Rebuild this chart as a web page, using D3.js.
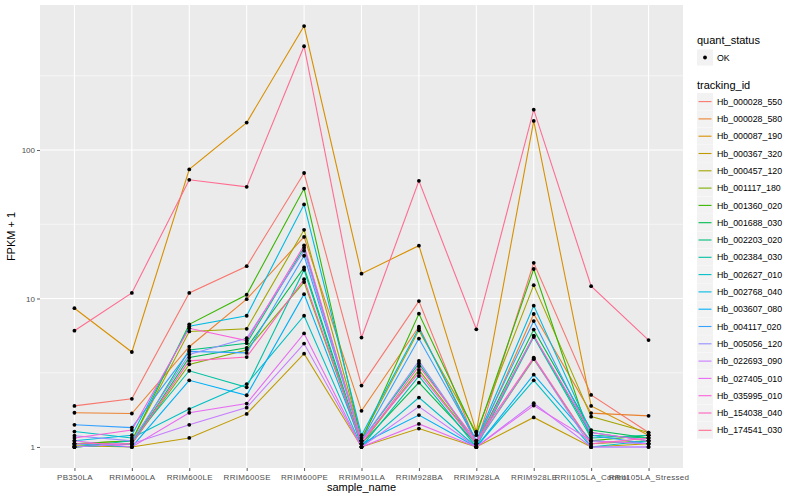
<!DOCTYPE html>
<html><head><meta charset="utf-8">
<script src="https://cdn.jsdelivr.net/npm/d3@7/dist/d3.min.js"></script>
<style>body{margin:0;background:#fff;} text{font-family:"Liberation Sans",Arial,sans-serif;}</style>
</head><body><svg id="c" width="800" height="500"></svg>
<script>
const samples = ["PB350LA","RRIM600LA","RRIM600LE","RRIM600SE","RRIM600PE","RRIM901LA","RRIM928BA","RRIM928LA","RRIM928LE","RRII105LA_Control","RRII105LA_Stressed"];
const trackingIds = ["Hb_000028_550","Hb_000028_580","Hb_000087_190","Hb_000367_320","Hb_000457_120","Hb_001117_180","Hb_001360_020","Hb_001688_030","Hb_002203_020","Hb_002384_030","Hb_002627_010","Hb_002768_040","Hb_003607_080","Hb_004117_020","Hb_005056_120","Hb_022693_090","Hb_027405_010","Hb_035995_010","Hb_154038_040","Hb_174541_030"];
const colors = ["#F8766D","#EA8331","#D89000","#C09B00","#A3A500","#7CAE00","#39B600","#00BB4E","#00BF7D","#00C1A3","#00BFC4","#00BAE0","#00B0F6","#35A2FF","#9590FF","#C77CFF","#E76BF3","#FA62DB","#FF62BC","#FF6C91"];
// FPKM + 1, one row per tracking_id, columns follow samples
const fpkm = [
 [1.89, 2.11, 10.9, 16.5, 70, 2.59, 9.6, 1.05, 17.4, 2.24, 1.25],
 [1.70, 1.68, 4.73, 9.9, 26, 1.75, 6.45, 1.05, 7.86, 1.69, 1.62],
 [8.6, 4.36, 74, 153, 684, 14.7, 22.7, 1.27, 157, 1.89, 1.2],
 [1.02, 1.0, 1.15, 1.67, 4.25, 1.0, 1.33, 1.0, 1.58, 1.0, 1.05],
 [1.05, 1.1, 6.0, 6.25, 29, 1.15, 6.1, 1.25, 12.3, 1.6, 1.25],
 [1.0, 1.05, 3.6, 4.5, 12.9, 1.05, 3.3, 1.05, 3.9, 1.05, 1.1],
 [1.05, 1.1, 6.7, 10.6, 55, 1.1, 7.9, 1.2, 15.8, 1.1, 1.2],
 [1.0, 1.05, 4.0, 4.65, 16.2, 1.05, 2.71, 1.05, 6.17, 1.3, 1.15],
 [1.0, 1.05, 4.5, 5.0, 22, 1.1, 3.65, 1.05, 5.6, 1.2, 1.15],
 [1.0, 1.1, 3.26, 2.52, 15.6, 1.0, 3.0, 1.0, 5.5, 1.15, 1.2],
 [1.27, 1.15, 1.8, 2.65, 7.65, 1.0, 2.15, 1.0, 2.81, 1.0, 1.1],
 [1.1, 1.2, 6.5, 7.65, 43, 1.2, 6.3, 1.1, 8.95, 1.25, 1.1],
 [1.05, 1.0, 2.81, 2.23, 10.7, 1.05, 1.64, 1.0, 3.07, 1.1, 1.05],
 [1.41, 1.35, 4.4, 4.3, 19.4, 1.1, 5.37, 1.1, 7.05, 1.2, 1.05],
 [1.19, 1.1, 4.2, 5.4, 21, 1.1, 3.8, 1.05, 3.95, 1.0, 1.0],
 [1.0, 1.05, 1.41, 1.84, 4.97, 1.0, 1.87, 1.0, 1.97, 1.0, 1.0],
 [1.1, 1.0, 1.7, 1.96, 5.82, 1.0, 1.43, 1.0, 1.9, 1.1, 1.05],
 [1.15, 1.3, 6.3, 5.2, 22.8, 1.1, 3.15, 1.05, 5.6, 1.25, 1.1],
 [1.05, 1.05, 3.8, 4.03, 13.5, 1.05, 3.5, 1.1, 4.0, 1.05, 1.15],
 [6.07, 10.9, 63, 56.5, 500, 5.45, 62, 6.2, 187, 12.1, 5.25]
];
const yTicks = [1, 10, 100];
const yMinor = [Math.pow(10,0.5), Math.pow(10,1.5), Math.pow(10,2.5)];
const quantStatus = ["OK"];

const svg = d3.select("#c");
const P = {l:40, r:683, t:5, b:468};

const x = d3.scalePoint().domain(samples).range([P.l, P.r]).padding(0.6);
const all = fpkm.flat();
const lo = Math.log10(d3.min(all)), hi = Math.log10(d3.max(all));
const pad = 0.05*(hi-lo);
const y = d3.scaleLog().domain([Math.pow(10,lo-pad), Math.pow(10,hi+pad)]).range([P.b, P.t]);

svg.append("rect").attr("x",P.l).attr("y",P.t).attr("width",P.r-P.l).attr("height",P.b-P.t).attr("fill","#EBEBEB");
const g = svg.append("g");
g.selectAll(".ymin").data(yMinor.filter(v=>y(v)>=P.t&&y(v)<=P.b)).join("line")
 .attr("x1",P.l).attr("x2",P.r).attr("y1",d=>y(d)).attr("y2",d=>y(d)).attr("stroke","#fff").attr("stroke-width",0.55);
g.selectAll(".ymaj").data(yTicks).join("line")
 .attr("x1",P.l).attr("x2",P.r).attr("y1",d=>y(d)).attr("y2",d=>y(d)).attr("stroke","#fff").attr("stroke-width",1.1);
g.selectAll(".xmaj").data(samples).join("line")
 .attr("x1",d=>x(d)).attr("x2",d=>x(d)).attr("y1",P.t).attr("y2",P.b).attr("stroke","#fff").attr("stroke-width",1.1);

const line = d3.line().x((d,i)=>x(samples[i])).y(d=>y(d));
svg.append("g").selectAll("path").data(fpkm).join("path")
 .attr("d",d=>line(d)).attr("fill","none").attr("stroke",(d,i)=>colors[i]).attr("stroke-width",1.1);

const pts = [];
fpkm.forEach((row,i)=>row.forEach((v,j)=>pts.push({s:samples[j],v})));
svg.append("g").selectAll("circle").data(pts).join("circle")
 .attr("cx",d=>x(d.s)).attr("cy",d=>y(d.v)).attr("r",1.9).attr("fill","#000");

// axes
const yAxis = d3.axisLeft(y).tickValues(yTicks).tickFormat(d3.format("d")).tickSize(3).tickPadding(2);
const ya = svg.append("g").attr("transform",`translate(${P.l},0)`).call(yAxis);
const xAxis = d3.axisBottom(x).tickSize(3).tickPadding(3.5);
const xa = svg.append("g").attr("transform",`translate(0,${P.b})`).call(xAxis);
[ya,xa].forEach(a=>{
  a.select(".domain").remove();
  a.selectAll(".tick line").attr("stroke","#333").attr("stroke-width",0.8);
  a.selectAll(".tick text").attr("fill","#4D4D4D").style("font-size","8px");
});
xa.selectAll(".tick text").style("letter-spacing","0.3px");

svg.append("text").attr("x",(P.l+P.r)/2).attr("y",491).attr("text-anchor","middle").style("font-size","11px").attr("fill","#000").text("sample_name");
svg.append("text").attr("transform",`translate(15,${(P.t+P.b)/2}) rotate(-90)`).attr("text-anchor","middle").style("font-size","11px").attr("fill","#000").text("FPKM + 1");

// legends
const L = svg.append("g");
L.append("text").attr("x",697).attr("y",44).style("font-size","11px").text("quant_status");
L.append("rect").attr("x",697).attr("y",49.5).attr("width",16).attr("height",16).attr("fill","#F2F2F2");
L.selectAll(".qs").data(quantStatus).join("circle").attr("cx",705).attr("cy",57.5).attr("r",1.9).attr("fill","#000");
L.selectAll(".qst").data(quantStatus).join("text").attr("x",717).attr("y",60.8).style("font-size","8.8px").text(d=>d);
L.append("text").attr("x",697).attr("y",89).style("font-size","11px").text("tracking_id");
const key = L.selectAll(".k").data(trackingIds).join("g").attr("transform",(d,i)=>`translate(697,${93+i*17.3})`);
key.append("rect").attr("width",16).attr("height",17).attr("fill","#F2F2F2");
key.append("line").attr("x1",1.5).attr("x2",14.5).attr("y1",8.6).attr("y2",8.6).attr("stroke",(d,i)=>colors[i]).attr("stroke-width",1.1);
key.append("text").attr("x",20).attr("y",11.8).style("font-size","8.8px").text(d=>d);
</script></body></html>
